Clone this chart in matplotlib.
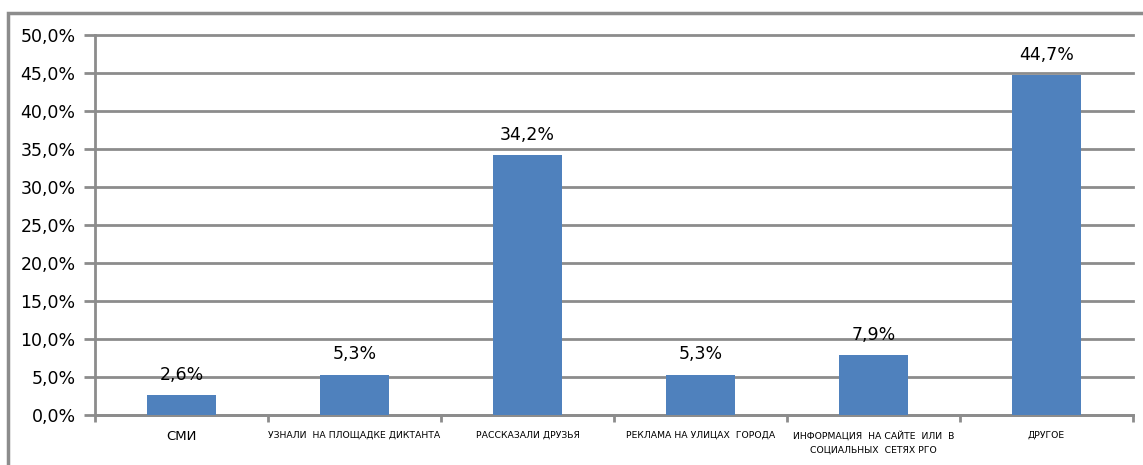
import matplotlib.pyplot as plt
from matplotlib.patches import Rectangle

categories = ['СМИ', 'УЗНАЛИ  НА ПЛОЩАДКЕ ДИКТАНТА', 'РАССКАЗАЛИ ДРУЗЬЯ',
              'РЕКЛАМА НА УЛИЦАХ  ГОРОДА', 'ИНФОРМАЦИЯ  НА САЙТЕ  ИЛИ  В\nСОЦИАЛЬНЫХ  СЕТЯХ РГО',
              'ДРУГОЕ']
values = [2.6, 5.3, 34.2, 5.3, 7.9, 44.7]
label_sizes = [9.5, 6.7, 6.7, 6.7, 6.7, 6.7]

grid_col = '#8c8c8c'
bar_col = '#4f81bd'

fig = plt.figure(figsize=(11.43, 4.65), dpi=100)
ax = fig.add_axes([95 / 1143, 1 - 415 / 465, (1133 - 95) / 1143, 380 / 465])

x = range(len(values))
ax.bar(x, values, width=0.4, color=bar_col, zorder=3)
for i, v in enumerate(values):
    ax.text(i, v + 1.5, f'{v:.1f}%'.replace('.', ','), ha='center', va='bottom',
            fontsize=12.5, color='black', zorder=4)

ax.set_xlim(-0.5, len(values) - 0.5)
ax.set_ylim(0, 50)
yt = [i * 5 for i in range(11)]
ax.set_yticks(yt)
ax.set_yticklabels([f'{t:.1f}%'.replace('.', ',') for t in yt], fontsize=12.5, color='black')
ax.yaxis.grid(True, color=grid_col, linewidth=2, zorder=0)
for gl in ax.get_ygridlines():
    gl.set_clip_on(False)

ax.set_xticks([i - 0.5 for i in range(len(values) + 1)])
ax.set_xticklabels([])
ax.set_xticks(list(x), minor=True)
ax.set_xticklabels(categories, minor=True)
for lbl, s in zip(ax.get_xticklabels(minor=True), label_sizes):
    lbl.set_fontsize(s)
    lbl.set_linespacing(1.8)
ax.tick_params(axis='x', which='minor', length=0, pad=11)
ax.tick_params(axis='x', which='major', length=5, width=2, color=grid_col)
ax.tick_params(axis='y', length=8, width=2, color=grid_col, pad=6)

for side in ['top', 'right']:
    ax.spines[side].set_visible(False)
for side in ['left', 'bottom']:
    ax.spines[side].set_color(grid_col)
    ax.spines[side].set_linewidth(2)

fig.patches.append(Rectangle((8 / 1143, -0.1), 1.2, 1 - 13 / 465 + 0.1,
                             transform=fig.transFigure, fill=False,
                             edgecolor=grid_col, linewidth=2.5))

fig.savefig('out.png', dpi=100)
